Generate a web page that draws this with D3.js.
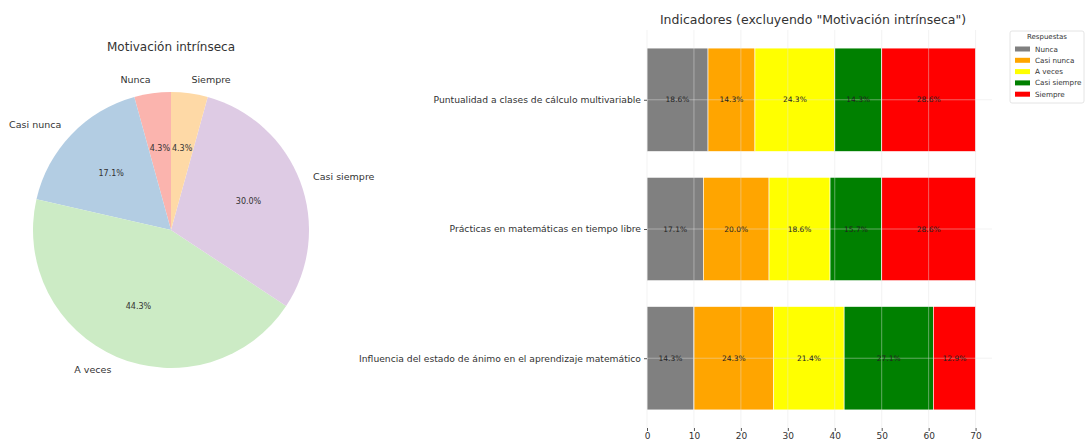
<!DOCTYPE html>
<html>
<head>
<meta charset="utf-8">
<script src="https://cdn.jsdelivr.net/npm/d3@7"></script>
<style>
  html, body { margin: 0; padding: 0; background: #fff; }
  svg { display: block; font-family: "DejaVu Sans", sans-serif; }
</style>
</head>
<body>
<svg id="chart" width="1090" height="441"></svg>
<script>
// Response levels shared by both panels
const responses = ["Nunca", "Casi nunca", "A veces", "Casi siempre", "Siempre"];

// Pie: "Motivación intrínseca" (counts out of 70)
const pieCounts = [3, 12, 31, 21, 3];
const pieColors = ["#fbb4ae", "#b3cde3", "#ccebc5", "#decbe4", "#fed9a6"];

// Stacked bars: one row per indicator, counts per response level (70 answers each)
const indicators = [
  "Puntualidad a clases de cálculo multivariable",
  "Prácticas en matemáticas en tiempo libre",
  "Influencia del estado de ánimo en el aprendizaje matemático"
];
const nunca       = [13, 12, 10];
const casiNunca   = [10, 14, 17];
const aVeces      = [17, 13, 15];
const casiSiempre = [10, 11, 19];
const siempre     = [20, 20, 9];
const barColors = ["#808080", "#ffa500", "#ffff00", "#008000", "#ff0000"];
const xTicks = [0, 10, 20, 30, 40, 50, 60, 70];

const svg = d3.select("#chart");
const textColor = "#333";

// ---------- Pie panel ----------
const cx = 171, cy = 230, R = 138;
const pieTotal = d3.sum(pieCounts);
const pieGen = d3.pie().sort(null).startAngle(0).endAngle(-2 * Math.PI);
const arcs = pieGen(pieCounts);
const arcGen = d3.arc().innerRadius(0).outerRadius(R);

const pieG = svg.append("g").attr("transform", `translate(${cx},${cy})`);
pieG.selectAll("path.slice")
  .data(arcs)
  .join("path")
  .attr("class", "slice")
  .attr("d", arcGen)
  .attr("fill", (d, i) => pieColors[i]);

const polar = (a, r) => [Math.sin(a) * r, -Math.cos(a) * r];

pieG.selectAll("text.lbl")
  .data(arcs)
  .join("text")
  .attr("class", "lbl")
  .each(function (d, i) {
    const mid = (d.startAngle + d.endAngle) / 2;
    const [px, py] = polar(mid, R * 1.1);
    d3.select(this)
      .attr("x", px).attr("y", py)
      .attr("dy", "0.35em")
      .attr("text-anchor", px > 0 ? "start" : "end")
      .text(responses[i]);
  })
  .attr("font-size", 9.5)
  .attr("fill", textColor);

pieG.selectAll("text.pct")
  .data(arcs)
  .join("text")
  .attr("class", "pct")
  .each(function (d) {
    const mid = (d.startAngle + d.endAngle) / 2;
    const [px, py] = polar(mid, R * 0.6);
    d3.select(this)
      .attr("x", px).attr("y", py)
      .attr("dy", "0.35em")
      .attr("text-anchor", "middle")
      .text((d.value / pieTotal * 100).toFixed(1) + "%");
  })
  .attr("font-size", 8)
  .attr("fill", textColor);

svg.append("text")
  .attr("x", cx).attr("y", 51)
  .attr("text-anchor", "middle")
  .attr("font-size", 12)
  .attr("fill", textColor)
  .text("Motivación intrínseca");

// ---------- Stacked bar panel ----------
const axLeft = 647, axRight = 992, axTop = 30, axBottom = 428;
const x = d3.scaleLinear().domain([0, 73.5]).range([axLeft, axRight]);
const y = d3.scaleLinear().domain([-0.54, 2.54]).range([axTop, axBottom]);

const series = [nunca, casiNunca, aVeces, casiSiempre, siempre];
const rows = indicators.map((name, i) => {
  const o = { name };
  responses.forEach((r, k) => { o[r] = series[k][i]; });
  return o;
});
const stacked = d3.stack().keys(responses)(rows);

const barG = svg.append("g");
stacked.forEach((layer, k) => {
  barG.selectAll(null)
    .data(layer)
    .join("rect")
    .attr("x", d => x(d[0]))
    .attr("width", d => x(d[1]) - x(d[0]))
    .attr("y", (d, i) => y(i - 0.4))
    .attr("height", y(0.4) - y(-0.4))
    .attr("fill", barColors[k])
    .attr("stroke", "#fff")
    .attr("stroke-width", 0.6);
});

// Light grid drawn over the bars
const gridG = svg.append("g");
gridG.selectAll("line.v")
  .data(xTicks)
  .join("line")
  .attr("x1", d => x(d)).attr("x2", d => x(d))
  .attr("y1", axTop).attr("y2", axBottom)
  .attr("stroke", "#e4e4e4")
  .attr("stroke-opacity", 0.55)
  .attr("stroke-width", 0.8);
gridG.selectAll("line.h")
  .data(indicators)
  .join("line")
  .attr("x1", axLeft).attr("x2", axRight)
  .attr("y1", (d, i) => y(i)).attr("y2", (d, i) => y(i))
  .attr("stroke", "#e4e4e4")
  .attr("stroke-opacity", 0.55)
  .attr("stroke-width", 0.8);

// Percentage labels inside each segment
const labelG = svg.append("g");
stacked.forEach(layer => {
  labelG.selectAll(null)
    .data(layer)
    .join("text")
    .attr("x", d => (x(d[0]) + x(d[1])) / 2)
    .attr("y", (d, i) => y(i))
    .attr("dy", "0.35em")
    .attr("text-anchor", "middle")
    .attr("font-size", 7.5)
    .attr("fill", "#222")
    .text(d => ((d[1] - d[0]) / 70 * 100).toFixed(1) + "%");
});

// Axes
const xAxis = d3.axisBottom(x).tickValues(xTicks).tickSize(3).tickSizeOuter(0);
const xg = svg.append("g").attr("transform", `translate(0,${axBottom})`).call(xAxis);
xg.select(".domain").remove();
xg.selectAll(".tick line").attr("stroke", "#555");
xg.selectAll(".tick text").attr("font-size", 9).attr("fill", textColor)
  .attr("font-family", "DejaVu Sans, sans-serif").attr("dy", "0.6em");

const yAxis = d3.axisLeft(y).tickValues([0, 1, 2]).tickFormat(i => indicators[i]).tickSize(3).tickPadding(3);
const yg = svg.append("g").attr("transform", `translate(${axLeft},0)`).call(yAxis);
yg.select(".domain").remove();
yg.selectAll(".tick line").attr("stroke", "#555");
yg.selectAll(".tick text").attr("font-size", 9.2).attr("fill", textColor)
  .attr("font-family", "DejaVu Sans, sans-serif");

svg.append("text")
  .attr("x", 813).attr("y", 24)
  .attr("text-anchor", "middle")
  .attr("font-size", 12.5)
  .attr("fill", textColor)
  .text('Indicadores (excluyendo "Motivación intrínseca")');

// Legend
const lg = svg.append("g").attr("transform", "translate(1010,31)");
lg.append("rect")
  .attr("width", 74).attr("height", 72)
  .attr("fill", "#fff").attr("stroke", "#ddd").attr("stroke-width", 0.8).attr("rx", 2);
lg.append("text")
  .attr("x", 37).attr("y", 8)
  .attr("text-anchor", "middle")
  .attr("font-size", 7).attr("fill", textColor)
  .text("Respuestas");
responses.forEach((r, k) => {
  const yy = 18 + k * 11.3;
  lg.append("rect").attr("x", 5).attr("y", yy - 2.5).attr("width", 15).attr("height", 5).attr("fill", barColors[k]);
  lg.append("text").attr("x", 25).attr("y", yy).attr("dy", "0.35em")
    .attr("font-size", 7.2).attr("fill", textColor).text(r);
});
</script>
</body>
</html>
